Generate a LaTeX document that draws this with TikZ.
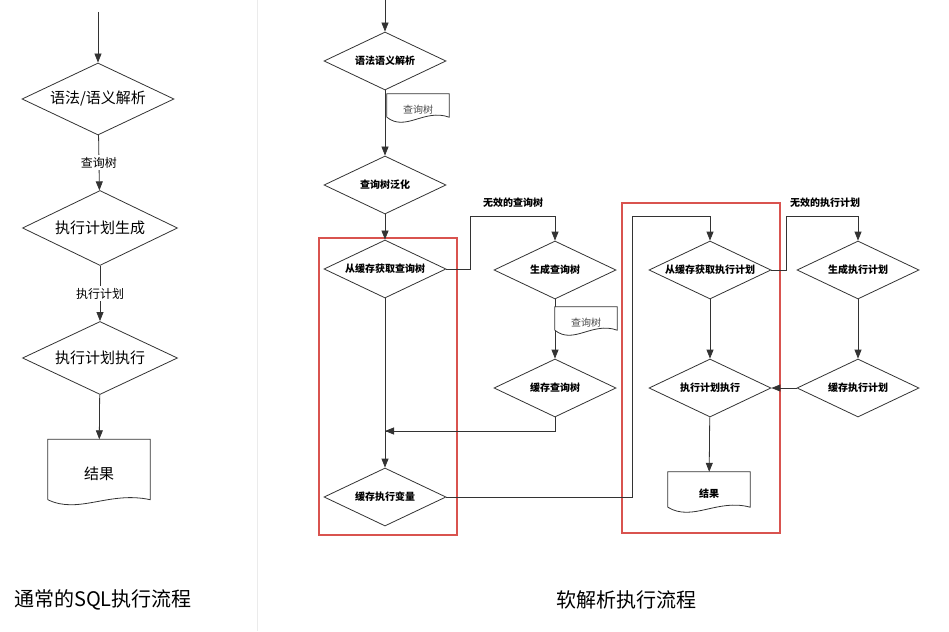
\documentclass[tikz,border=0pt]{standalone}
\usepackage{fontspec}
\setmainfont{Noto Sans CJK SC}
\usetikzlibrary{shapes.geometric,arrows.meta,calc}
\definecolor{boxred}{HTML}{D9534F}
\tikzset{
 ln/.style={draw=black!80,line width=0.8pt},
 ar/.style={ln,-{Triangle[length=9pt,width=7pt]}},
 dia/.style={diamond,ln,aspect=2,inner sep=0pt,font=\bfseries\fontsize{10}{12}\selectfont},
 bdia/.style={diamond,ln,aspect=2.4,inner sep=0pt,font=\fontsize{15}{17}\selectfont},
 doc/.style={inner sep=0pt},
 lbl/.style={font=\fontsize{12}{14}\selectfont,fill=white,inner sep=2pt},
 blbl/.style={font=\bfseries\fontsize{10}{12}\selectfont},
 red/.style={draw=boxred,line width=1.1pt},
 title/.style={font=\fontsize{20}{24}\selectfont},
}
\newcommand{\docout}[1]{\draw[ln,fill=white] ($(#1.south west)+(0,-5)$) -- (#1.north west) -- (#1.north east) -- ($(#1.south east)+(0,-5)$)
 .. controls ($(#1.south east)!0.4!(#1.south west)+(0,-14)$) and ($(#1.south east)!0.7!(#1.south west)+(0,10)$) .. ($(#1.south west)+(0,-5)$);}
\begin{document}
\begin{tikzpicture}[x=1pt,y=-1pt]
\useasboundingbox (0,0) rectangle (949,631);
\draw[black!8,line width=1pt] (257,0) -- (257,631);
% left flow
\coordinate (ls) at (98,12);
\node[bdia,minimum width=152,minimum height=72] (l1) at (98,99) {语法/语义解析};
\node[bdia,minimum width=155,minimum height=75] (l2) at (100,228) {执行计划生成};
\node[bdia,minimum width=155,minimum height=73] (l3) at (100,358) {执行计划执行};
\node[doc,minimum width=102,minimum height=65] (l4) at (99,472) {};
\docout{l4}
\node[font=\fontsize{15}{17}\selectfont] at (99,474) {结果};
\draw[ar] (ls) -- (l1);
\draw[ar] (l1) -- node[lbl]{查询树} (l2);
\draw[ar] (l2) -- node[lbl]{执行计划} (l3);
\draw[ar] (l3) -- (l4);
\node[title] at (103,600) {通常的SQL执行流程};
\node[title] at (626,600) {软解析执行流程};
% right flow
\draw[red] (319,238) rectangle (457,535);
\draw[red] (622,203) rectangle (780,533);
\coordinate (rs) at (385,0);
\node[dia,minimum width=122,minimum height=58] (a1) at (385,61) {语法语义解析};
\node[dia,minimum width=122,minimum height=58] (a2) at (385,185) {查询树泛化};
\node[dia,minimum width=122,minimum height=58] (a3) at (385,269) {从缓存获取查询树};
\node[dia,minimum width=122,minimum height=58] (a4) at (385,497) {缓存执行变量};
\node[dia,minimum width=122,minimum height=58] (b1) at (555,270) {生成查询树};
\node[dia,minimum width=122,minimum height=58] (b2) at (555,388) {缓存查询树};
\node[dia,minimum width=122,minimum height=58] (c1) at (710,270) {从缓存获取执行计划};
\node[dia,minimum width=122,minimum height=58] (c2) at (710,388) {执行计划执行};
\node[dia,minimum width=122,minimum height=58] (d1) at (858,270) {生成执行计划};
\node[dia,minimum width=122,minimum height=58] (d2) at (858,388) {缓存执行计划};
\draw[ar] (rs) -- (a1);
\draw[ar] (a1) -- (a2);
\draw[ar] (a2) -- (a3);
\node[doc,minimum width=62,minimum height=28] (q1) at (418,108) {};
\docout{q1}
\node[font=\fontsize{10}{12}\selectfont,text=black!70] at (418,110) {查询树};
\draw[ar] (a3.east) -- (470,269) -- (470,216) -| (b1.north);
\node[blbl] at (513,203) {无效的查询树};
\draw[ar] (b1) -- (b2);
\node[doc,minimum width=62,minimum height=28] (q2) at (586,321) {};
\docout{q2}
\node[font=\fontsize{10}{12}\selectfont,text=black!70] at (586,323) {查询树};
\coordinate (m1) at (385,431);
\draw[ln] (b2.south) |- (m1);
\draw[ar] (555,431) -- (m1);
\draw[ar] (a3) -- (a4);
\draw[ar] (a4.east) -- (632,497) -- (632,216) -| (c1.north);
\draw[ar] (c1.east) -- (786,270) -- (786,216) -| (d1.north);
\node[blbl] at (825,203) {无效的执行计划};
\draw[ar] (d1) -- (d2);
\draw[ar] (d2) -- (c2);
\draw[ar] (c1) -- (c2);
\node[doc,minimum width=82,minimum height=40] (r) at (709,492) {};
\docout{r}
\node[blbl] at (709,494) {结果};
\draw[ar] (c2) -- (r);
\end{tikzpicture}
\end{document}
